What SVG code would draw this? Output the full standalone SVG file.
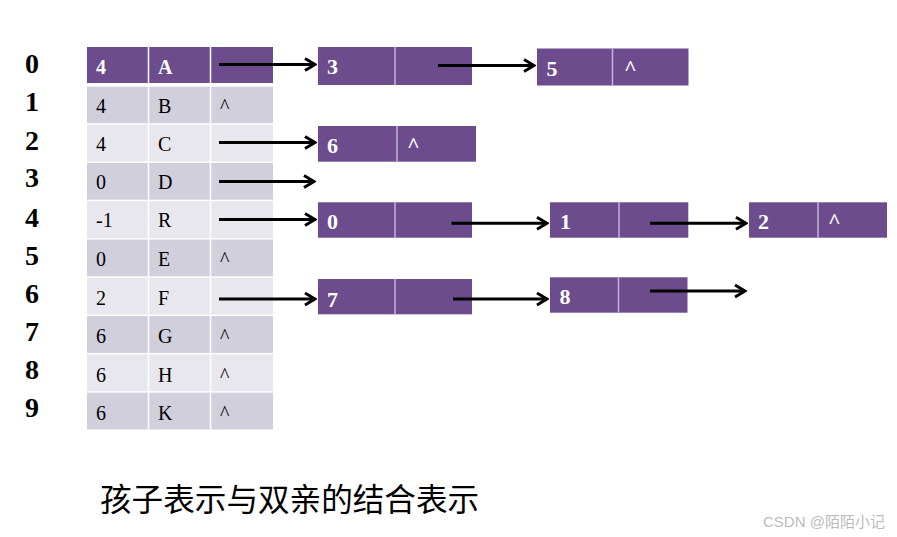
<svg xmlns="http://www.w3.org/2000/svg" width="897" height="537" viewBox="0 0 897 537">
<style>
.idx{font-family:"Liberation Serif",serif;font-weight:bold;font-size:28px;fill:#000}
.cell{font-family:"Liberation Serif",serif;font-size:20px;fill:#000}
.hd{font-family:"Liberation Serif",serif;font-weight:bold;font-size:20px;fill:#fff}
.nt{font-family:"Liberation Serif",serif;font-weight:bold;font-size:22px;fill:#fff}
.pur{fill:#6C4C8D}
.dk{fill:#D2CFDC}
.lt{fill:#E9E7EE}
.sep{stroke:#fff;stroke-width:1.5}
.nsep{stroke:#C3B5D6;stroke-width:1.5}
.arr{stroke:#000;stroke-width:3;fill:none;marker-end:url(#ah)}
</style>
<defs>
<marker id="ah" viewBox="-14 -8 16 16" refX="0" refY="0" markerWidth="16" markerHeight="16" markerUnits="userSpaceOnUse" orient="auto">
<path d="M-10,-6 L0,0 L-10,6" fill="none" stroke="#000" stroke-width="3"/>
</marker>
</defs>
<rect width="897" height="537" fill="#fff"/>

<g id="indices">
<text class="idx" x="25" y="73">0</text>
<text class="idx" x="25" y="111">1</text>
<text class="idx" x="25" y="150">2</text>
<text class="idx" x="25" y="187">3</text>
<text class="idx" x="25" y="227">4</text>
<text class="idx" x="25" y="265">5</text>
<text class="idx" x="25" y="303">6</text>
<text class="idx" x="25" y="341">7</text>
<text class="idx" x="25" y="379">8</text>
<text class="idx" x="25" y="417">9</text>
</g>

<g id="table">
<rect class="pur" x="87" y="47" width="186" height="36"/>
<rect class="dk" x="87" y="86.7" width="186" height="36.5"/>
<rect class="lt" x="87" y="124.6" width="186" height="36.8"/>
<rect class="dk" x="87" y="162.9" width="186" height="36.8"/>
<rect class="lt" x="87" y="201.2" width="186" height="36.8"/>
<rect class="dk" x="87" y="239.5" width="186" height="36.8"/>
<rect class="lt" x="87" y="277.8" width="186" height="36.8"/>
<rect class="dk" x="87" y="316.1" width="186" height="36.8"/>
<rect class="lt" x="87" y="354.4" width="186" height="36.8"/>
<rect class="dk" x="87" y="392.7" width="186" height="36.8"/>
<line class="sep" x1="148.5" y1="47" x2="148.5" y2="430"/>
<line class="sep" x1="210.5" y1="47" x2="210.5" y2="430"/>
<text class="hd" x="96" y="73.5">4</text><text class="hd" x="158" y="73.5">A</text>
<text class="cell" x="96" y="112.7">4</text><text class="cell" x="158" y="112.7">B</text><text class="cell" x="220" y="112.7">^</text>
<text class="cell" x="96" y="150.7">4</text><text class="cell" x="158" y="150.7">C</text>
<text class="cell" x="96" y="189">0</text><text class="cell" x="158" y="189">D</text>
<text class="cell" x="96" y="227">-1</text><text class="cell" x="158" y="227">R</text>
<text class="cell" x="96" y="266">0</text><text class="cell" x="158" y="266">E</text><text class="cell" x="220" y="266">^</text>
<text class="cell" x="96" y="305">2</text><text class="cell" x="158" y="305">F</text>
<text class="cell" x="96" y="343">6</text><text class="cell" x="158" y="343">G</text><text class="cell" x="220" y="343">^</text>
<text class="cell" x="96" y="381.7">6</text><text class="cell" x="158" y="381.7">H</text><text class="cell" x="220" y="381.7">^</text>
<text class="cell" x="96" y="420">6</text><text class="cell" x="158" y="420">K</text><text class="cell" x="220" y="420">^</text>
</g>

<g id="node3">
<rect class="pur" x="318" y="47" width="154" height="38"/>
<line class="nsep" x1="395" y1="47" x2="395" y2="85"/>
<text class="nt" x="327" y="73.5">3</text>
</g>
<g id="node5">
<rect class="pur" x="537" y="48.5" width="151.5" height="37"/>
<line class="nsep" x1="612.5" y1="48.5" x2="612.5" y2="85.5"/>
<text class="nt" x="546.5" y="76">5</text>
<text class="nt" x="624" y="75" font-size="20">^</text>
</g>
<g id="node6">
<rect class="pur" x="318" y="126" width="158" height="35.7"/>
<line class="nsep" x1="397" y1="126" x2="397" y2="161.7"/>
<text class="nt" x="327" y="153">6</text>
<text class="nt" x="407" y="152" font-size="20">^</text>
</g>
<g id="node0">
<rect class="pur" x="318" y="202.3" width="154" height="35.4"/>
<line class="nsep" x1="395" y1="202.3" x2="395" y2="237.7"/>
<text class="nt" x="327" y="229">0</text>
</g>
<g id="node1">
<rect class="pur" x="550" y="202.3" width="138.3" height="35.4"/>
<line class="nsep" x1="619" y1="202.3" x2="619" y2="237.7"/>
<text class="nt" x="560" y="229">1</text>
</g>
<g id="node2">
<rect class="pur" x="749" y="202.3" width="138" height="35.4"/>
<line class="nsep" x1="818" y1="202.3" x2="818" y2="237.7"/>
<text class="nt" x="758" y="229">2</text>
<text class="nt" x="828" y="228" font-size="20">^</text>
</g>
<g id="node7">
<rect class="pur" x="318" y="279" width="154" height="35.3"/>
<line class="nsep" x1="395" y1="279" x2="395" y2="314.3"/>
<text class="nt" x="327" y="306.5">7</text>
</g>
<g id="node8">
<rect class="pur" x="550" y="277.3" width="137.5" height="35.4"/>
<line class="nsep" x1="618.5" y1="277.3" x2="618.5" y2="312.7"/>
<text class="nt" x="559.5" y="304">8</text>
</g>

<g id="connectors">
<line class="arr" x1="219" y1="64.5" x2="315" y2="64.5"/>
<line class="arr" x1="438" y1="65.5" x2="534" y2="65.5"/>
<line class="arr" x1="219" y1="142.5" x2="315" y2="142.5"/>
<line class="arr" x1="219" y1="181.5" x2="314" y2="181.5"/>
<line class="arr" x1="219" y1="219.5" x2="315" y2="219.5"/>
<line class="arr" x1="451.5" y1="223.3" x2="547" y2="223.3"/>
<line class="arr" x1="650" y1="223.3" x2="746" y2="223.3"/>
<line class="arr" x1="219" y1="299" x2="315" y2="299"/>
<line class="arr" x1="453" y1="299" x2="547" y2="299"/>
<line class="arr" x1="650" y1="291" x2="745" y2="291"/>
</g>

<text x="100" y="511" font-family="'Noto Sans CJK SC',sans-serif" font-size="31.6" fill="#000">孩子表示与双亲的结合表示</text>
<text x="763" y="527" font-family="'Liberation Sans','Noto Sans CJK SC',sans-serif" font-size="15" fill="#BBBBBB">CSDN @陌陌小记</text>
</svg>
